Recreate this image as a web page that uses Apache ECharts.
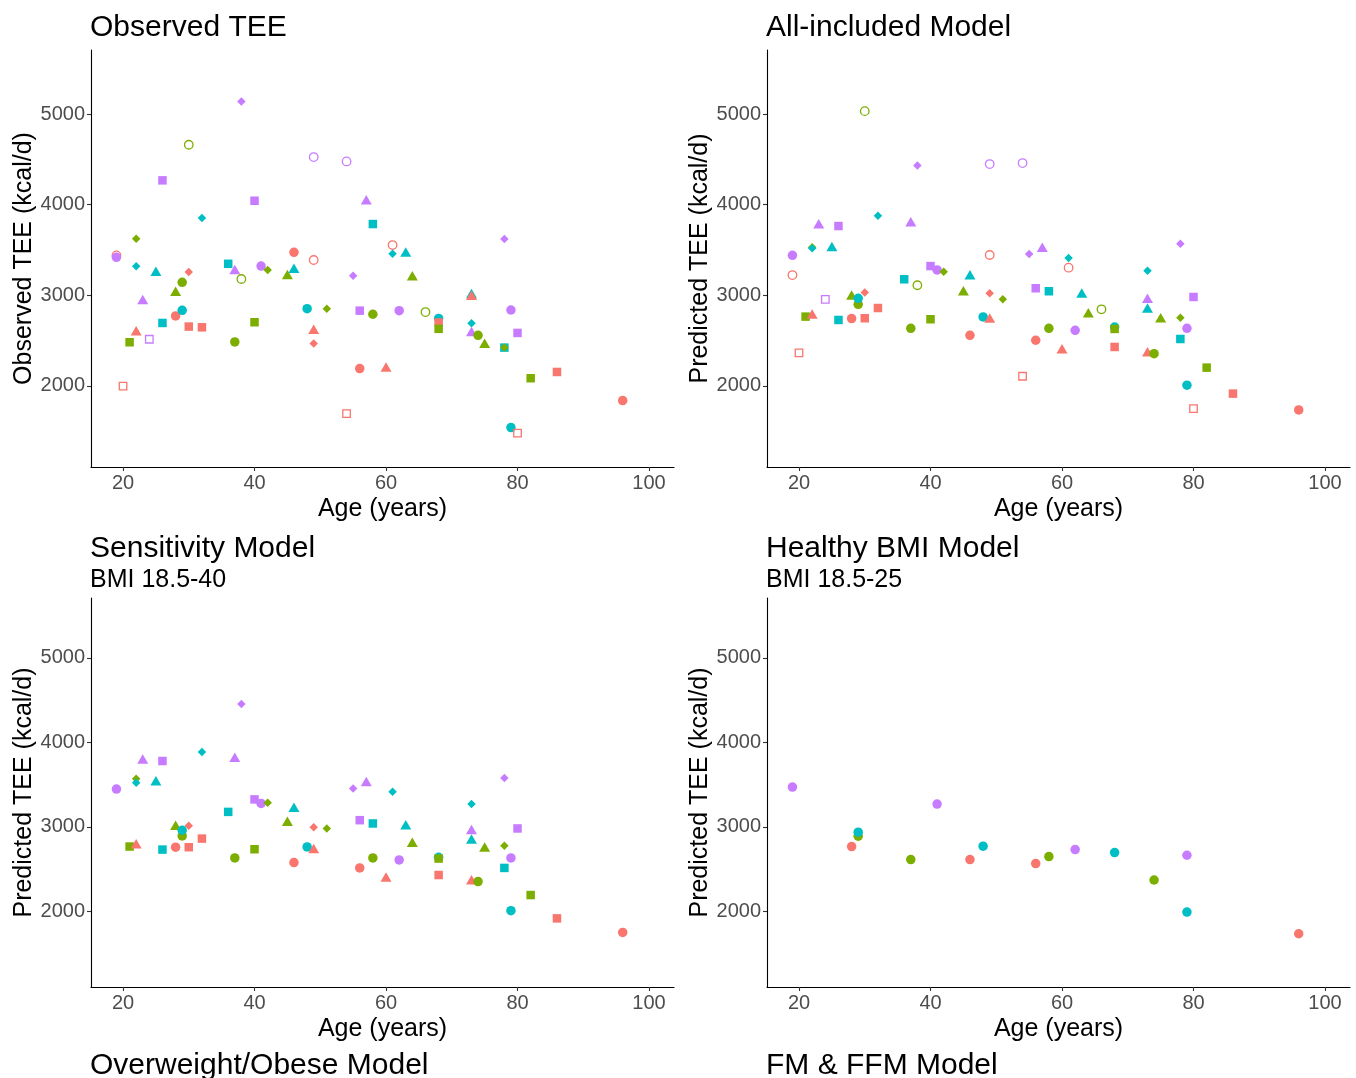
<!DOCTYPE html>
<html><head><meta charset="utf-8">
<script src="https://cdn.jsdelivr.net/npm/echarts@6/dist/echarts.min.js"></script>
<style>html,body{margin:0;padding:0;background:#fff;overflow:hidden}#c{width:1356px;height:1078px}</style>
</head><body><div id="c"></div>
<script>
// Group colours (ggplot default hue palette)
const groupColors = ['#F8766D', '#7CAE00', '#00BFC4', '#C77CFF'];
// Participants: group index, marker shape, age
const groups = [3,1,3,3,3,3,3,2,2,1, 0,3,2,2,0,1,1,3,2,3, 1,3,1,1,2,0,0,3,0,1, 0,3,2,0,2,0,0,1,1,2, 1,0,0,3,1,0,0,0,0,2, 2,1,3,2,0,3,1,2,0,1, 2,3,1,1,2,1,3,3,1,0, 0,2,0];
const shapes = ['d','oc','oc','oc','s','s','t','s','d','d', 'oc','c','d','t','d','c','t','t','s','t', 'oc','c','d','t','t','c','oc','d','os','s', 't','os','s','c','c','s','s','c','s','c', 'd','t','d','s','c','c','t','os','oc','d', 't','t','d','t','t','c','oc','c','s','s', 'd','t','c','t','s','d','c','s','s','s', 'c','c','os'];
const ages = [38,30,49,54,26,40,57,58,32,22, 19,19,22,25,30,29,28,23,36,37, 38,41,42,45,46,46,49,55,20,21, 22,24,26,28,29,30,32,37,40,48, 51,49,49,56,58,56,60,54,61,61, 63,64,78,73,73,62,66,68,68,68, 73,73,74,75,78,78,79,80,82,86, 96,79,80];
// TEE values (kcal/d)
const observedTEE = [5140,4662,4526,4478,4269,4044,4055,3787,3853,3625, 3440,3420,3320,3265,3257,3144,3045,2955,3348,3285, 3180,3323,3280,3230,3300,3475,3390,3216,1997,2482, 2610,2515,2695,2772,2835,2655,2647,2485,2703,2853, 2853,2625,2467,2831,2791,2191,2210,1695,3555,3460, 3478,3215,3621,3020,3000,2831,2815,2745,2700,2630, 2691,2600,2559,2470,2423,2423,2838,2585,2085,2154, 1838,1540,1478];
const allIncludedTEE = [4434,5033,4449,4460,3765,3323,3530,3045,3878,3530, 3224,3442,3520,3540,3030,2901,3004,3790,3177,3812, 3111,3280,3261,3051,3228,2559,3445,3456,2364,2765, 2795,2956,2728,2743,2967,2747,2860,2636,2736,2761, 2956,2750,3022,3078,2636,2504,2410,2107,3305,3412, 3026,2809,3570,2860,2378,2614,2846,2650,2430,2629, 3272,2967,2356,2753,2518,2753,2636,2982,2202,1915, 1735,2008,1750];
const sensitivityTEE = [4455,null,null,null,3779,3325,3538,3040,3886,3569, null,3447,3522,3545,3012,2893,3020,3803,3177,3823, null,3277,3284,3067,3233,2578,null,3455,null,2767, 2800,null,2731,2759,2960,2759,2861,2632,2735,2763, 2981,2743,2996,3079,2632,2514,2407,null,null,3415, 3024,2818,3577,2857,2375,2608,null,2640,2430,2625, 3269,2969,2352,2763,2514,2775,2632,2981,2193,1917, 1751,2008,null];
const healthyTEE = [null,null,null,null,null,null,null,null,null,null, null,3471,null,null,null,2890,null,null,null,null, null,3269,null,null,null,2613,null,null,null,null, null,null,null,2767,2937,null,null,2613,null,2771, null,null,null,null,2648,2565,null,null,null,null, null,null,null,null,null,2731,null,2696,null,null, null,null,2371,null,null,null,2664,null,null,null, 1735,1992,null];
const xTicks = [20, 40, 60, 80, 100];
const yTicks = [2000, 3000, 4000, 5000];

const panels = [
  {title: 'Observed TEE', sub: null, yName: 'Observed TEE (kcal/d)', vals: observedTEE, left: 91, top: 50, h: 417},
  {title: 'All-included Model', sub: null, yName: 'Predicted TEE (kcal/d)', vals: allIncludedTEE, left: 767, top: 50, h: 417},
  {title: 'Sensitivity Model', sub: 'BMI 18.5-40', yName: 'Predicted TEE (kcal/d)', vals: sensitivityTEE, left: 91, top: 598, h: 389},
  {title: 'Healthy BMI Model', sub: 'BMI 18.5-25', yName: 'Predicted TEE (kcal/d)', vals: healthyTEE, left: 767, top: 598, h: 389}
];
const FONT = '"Liberation Sans", Arial, Helvetica, sans-serif';

function markerStyle(shape, color) {
  switch (shape) {
    case 'c': return {symbol: 'circle', symbolSize: 9.5, itemStyle: {color: color, opacity: 1}};
    case 'oc': return {symbol: 'circle', symbolSize: 8.5, itemStyle: {color: 'rgba(255,255,255,0)', borderColor: color, borderWidth: 1.3, opacity: 1}};
    case 't': return {symbol: 'triangle', symbolSize: [11, 9.5], itemStyle: {color: color, opacity: 1}};
    case 's': return {symbol: 'rect', symbolSize: 8.5, itemStyle: {color: color, opacity: 1}};
    case 'os': return {symbol: 'rect', symbolSize: 7.5, itemStyle: {color: 'rgba(255,255,255,0)', borderColor: color, borderWidth: 1.3, opacity: 1}};
    case 'd': return {symbol: 'diamond', symbolSize: [8.5, 8.5], itemStyle: {color: color, opacity: 1}};
  }
}

const grids = [], xAxes = [], yAxes = [], series = [], titles = [];
panels.forEach((p, i) => {
  grids.push({left: p.left, top: p.top, width: 583, height: p.h, containLabel: false});
  xAxes.push({
    type: 'value', gridIndex: i, min: 15.13, max: 103.8,
    name: 'Age (years)', nameLocation: 'middle', nameGap: 30,
    nameTextStyle: {fontSize: 25, color: '#000', fontFamily: FONT},
    axisLine: {show: true, onZero: false, lineStyle: {color: '#000', width: 1.1}},
    axisTick: {show: true, length: 4, lineStyle: {color: '#333', width: 1.1}, customValues: xTicks},
    axisLabel: {fontSize: 20, color: '#4D4D4D', margin: 6, fontFamily: FONT, customValues: xTicks,
      formatter: v => String(v)},
    splitLine: {show: false}
  });
  yAxes.push({
    type: 'value', gridIndex: i, min: 1105, max: 5708,
    name: p.yName, nameLocation: 'middle', nameGap: 50,
    nameTextStyle: {fontSize: 25, color: '#000', fontFamily: FONT},
    axisLine: {show: true, onZero: false, lineStyle: {color: '#000', width: 1.1}},
    axisTick: {show: true, length: 4, lineStyle: {color: '#333', width: 1.1}, customValues: yTicks},
    axisLabel: {fontSize: 20, color: '#4D4D4D', margin: 6, fontFamily: FONT, customValues: yTicks,
      formatter: v => String(v)},
    splitLine: {show: false}
  });
  const data = [];
  for (let k = 0; k < ages.length; k++) {
    const v = p.vals[k];
    if (v === null || v === undefined) continue;
    const st = markerStyle(shapes[k], groupColors[groups[k]]);
    data.push(Object.assign({value: [ages[k], v]}, st));
  }
  series.push({type: 'scatter', xAxisIndex: i, yAxisIndex: i, data: data, silent: true, animation: false});
  titles.push({text: p.title, left: p.left - 1, top: p.top - 37, padding: 0,
    textStyle: {fontSize: 30, fontWeight: 'normal', color: '#000', fontFamily: FONT}});
  if (p.sub) {
    titles[titles.length - 1].top = p.top - 64;
    titles.push({text: p.sub, left: p.left - 1, top: p.top - 30, padding: 0,
      textStyle: {fontSize: 25, fontWeight: 'normal', color: '#000', fontFamily: FONT}});
  }
});
titles.push({text: 'Overweight/Obese Model', left: 90, top: 1051, padding: 0,
  textStyle: {fontSize: 30, fontWeight: 'normal', color: '#000', fontFamily: FONT}});
titles.push({text: 'FM & FFM Model', left: 766, top: 1051, padding: 0,
  textStyle: {fontSize: 30, fontWeight: 'normal', color: '#000', fontFamily: FONT}});

const chart = echarts.init(document.getElementById('c'), null, {renderer: 'canvas'});
chart.setOption({
  backgroundColor: '#fff',
  animation: false,
  title: titles,
  grid: grids,
  xAxis: xAxes,
  yAxis: yAxes,
  series: series
});
</script></body></html>
